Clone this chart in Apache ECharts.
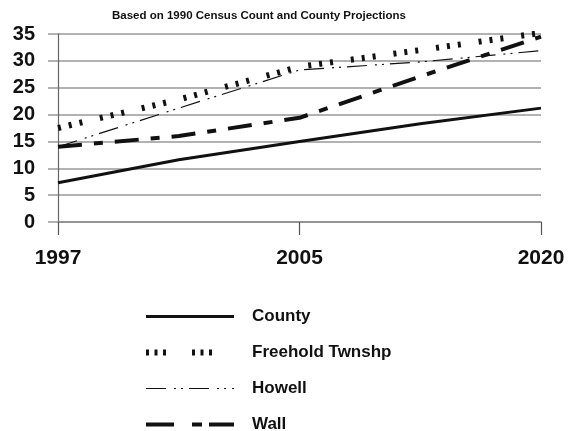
<!DOCTYPE html>
<html>
<head>
<meta charset="utf-8">
<script src="https://cdn.jsdelivr.net/npm/echarts@6/dist/echarts.min.js"></script>
<style>
html,body{margin:0;padding:0;background:#fff;}
#c{width:576px;height:431px;}
</style>
</head>
<body>
<div id="c"></div>
<script>
// Data
const titleText = 'Based on 1990 Census Count and County Projections';
const years = ['1997', '2000', '2005', '2010', '2020'];
const shownYears = ['1997', '2005', '2020'];
const seriesNames = ['County', 'Freehold Twnshp', 'Howell', 'Wall'];
const county   = [7.3, 11.6, 15.0, 18.3, 21.2];
const freehold = [17.5, 22.8, 28.9, 32.0, 35.2];
const howell   = [14.0, 21.2, 28.3, 29.8, 31.9];
const wall     = [14.0, 16.0, 19.4, 27.1, 34.5];
const yTicks = [0, 5, 10, 15, 20, 25, 30, 35];

const ink = '#111';
const FONT = '"Liberation Sans", Arial, sans-serif';
const styles = {
  'County':          { width: 3,   type: 'solid', legendType: 'solid', cap: 'butt' },
  'Freehold Twnshp': { width: 6,   type: [3, 8, 3, 8, 3, 18], legendType: [3, 5.5, 3, 5.5, 3, 26], cap: 'butt' },
  'Howell':          { width: 1.2, type: [20, 8, 2, 5, 2, 6], legendType: [20, 8, 2, 5, 2, 6], cap: 'butt' },
  'Wall':            { width: 4,   type: [24, 12, 9, 12], legendType: [28, 18, 10, 7, 30, 10], cap: 'butt' }
};
const values = { 'County': county, 'Freehold Twnshp': freehold, 'Howell': howell, 'Wall': wall };

const chart = echarts.init(document.getElementById('c'), null, { renderer: 'canvas' });
const showIdx = (i) => shownYears.indexOf(years[i]) >= 0;

chart.setOption({
  animation: false,
  backgroundColor: '#fff',
  title: {
    text: titleText,
    left: 107, top: 5,
    textStyle: { fontFamily: FONT, fontSize: 11.5, fontWeight: 'bold', color: ink }
  },
  grid: { left: 58, right: 35, top: 34, bottom: 209 },
  xAxis: {
    type: 'category',
    data: years,
    boundaryGap: false,
    axisLine: { show: true, lineStyle: { color: '#8a8a8a', width: 1.5 } },
    axisTick: { show: true, interval: (i) => showIdx(i), length: 13, lineStyle: { color: '#555', width: 1.2 } },
    axisLabel: {
      interval: (i) => showIdx(i), margin: 26,
      fontFamily: FONT, fontSize: 21, fontWeight: 'bold', color: ink
    },
    splitLine: { show: false }
  },
  yAxis: {
    type: 'value',
    min: yTicks[0], max: yTicks[yTicks.length - 1], interval: 5,
    axisLine: { show: true, lineStyle: { color: '#666', width: 1.2 } },
    axisTick: { show: true, length: 10, lineStyle: { color: '#999', width: 1.5 } },
    axisLabel: { margin: 23, fontFamily: FONT, fontSize: 20, fontWeight: 'bold', color: ink },
    splitLine: { show: true, lineStyle: { color: '#999', width: 1.5 } }
  },
  legend: {
    orient: 'vertical',
    left: 143, top: 308,
    padding: 0,
    height: 400,
    itemWidth: 88, itemHeight: 14, itemGap: 19,
    textStyle: { fontFamily: FONT, fontSize: 17, fontWeight: 'bold', color: ink, padding: [0, 0, 0, 13] },
    data: seriesNames.map(n => ({
      name: n,
      itemStyle: { opacity: 0 },
      lineStyle: { color: ink, width: styles[n].width, type: styles[n].legendType, cap: styles[n].cap }
    }))
  },
  series: seriesNames.map(n => ({
    name: n,
    type: 'line',
    data: values[n],
    symbol: 'none',
    showSymbol: false,
    smooth: false,
    lineStyle: { color: ink, width: styles[n].width, type: styles[n].type, cap: styles[n].cap },
    itemStyle: { color: ink }
  }))
});
</script>
</body>
</html>
